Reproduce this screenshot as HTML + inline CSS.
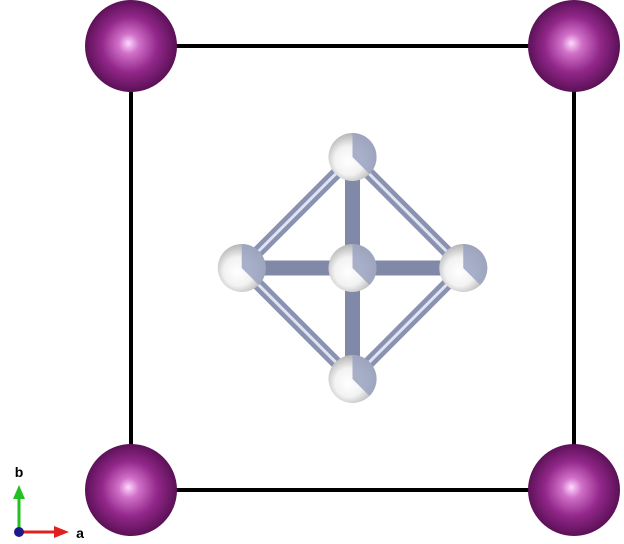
<!DOCTYPE html>
<html><head><meta charset="utf-8"><style>
html,body{margin:0;padding:0;background:#fff;}
svg{display:block;}
</style></head><body>
<svg id="s" width="624" height="544" viewBox="0 0 624 544" xmlns="http://www.w3.org/2000/svg">
<defs>
<radialGradient id="gP" cx="0.5" cy="0.5" r="0.55" fx="0.47" fy="0.47">
<stop offset="0" stop-color="#ffd8ff"/><stop offset="0.2" stop-color="#d070c8"/><stop offset="0.55" stop-color="#92278a"/><stop offset="1" stop-color="#4e0b4a"/>
</radialGradient>
<radialGradient id="gW" cx="0.45" cy="0.55" r="0.6" fx="0.4" fy="0.6">
<stop offset="0" stop-color="#ffffff"/><stop offset="0.5" stop-color="#f2f2f2"/><stop offset="1" stop-color="#a8a8a8"/>
</radialGradient>
<linearGradient id="gBv" x1="0" y1="0" x2="1" y2="0">
<stop offset="0" stop-color="#7c84a4"/><stop offset="0.5" stop-color="#a6adc8"/><stop offset="1" stop-color="#7c84a4"/>
</linearGradient>
<linearGradient id="gBh" x1="0" y1="0" x2="0" y2="1">
<stop offset="0" stop-color="#7c84a4"/><stop offset="0.5" stop-color="#a6adc8"/><stop offset="1" stop-color="#7c84a4"/>
</linearGradient>
</defs>
<g id="cell"></g>
<g id="bonds"></g>
<g id="atoms"></g>
<g>
<line x1="19" y1="530" x2="19" y2="497" stroke="#22c022" stroke-width="3"/>
<polygon points="13,499 25,499 19,485" fill="#22c022"/>
<line x1="19" y1="532" x2="56" y2="532" stroke="#e02020" stroke-width="3"/>
<polygon points="54,526 54,538 69,532" fill="#e02020"/>
<circle cx="19" cy="532" r="5" fill="#1a1a8a"/>
<text x="19" y="477" font-family="Liberation Sans, sans-serif" font-weight="bold" font-size="14" text-anchor="middle">b</text>
<text x="80" y="538" font-family="Liberation Sans, sans-serif" font-weight="bold" font-size="14" text-anchor="middle">a</text>
</g>
</svg>
<script>
// fractional coordinates (a, b) of atoms in projection
const cornerAtoms = [[0,0],[1,0],[0,1],[1,1]];
const octaAtoms = [[0.5,0.5],[0.5,0.75],[0.5,0.25],[0.25,0.5],[0.75,0.5]];
const spokeBonds = [[0,1],[0,2],[0,3],[0,4]];
const edgeBonds = [[1,3],[1,4],[2,3],[2,4]];
const X0=131, X1=574, Y0=490, Y1=46;
const px = f => X0 + f*(X1-X0);
const py = f => Y0 + f*(Y1-Y0);
const NS='http://www.w3.org/2000/svg';
function mk(tag, attrs, parent){const e=document.createElementNS(NS,tag);for(const k in attrs)e.setAttribute(k,attrs[k]);parent.appendChild(e);return e;}
const cell=document.getElementById('cell'), bonds=document.getElementById('bonds'), atoms=document.getElementById('atoms');
const r=mk('rect',{x:X0,y:Y1,width:X1-X0,height:Y0-Y1,fill:'none',stroke:'#000','stroke-width':4},cell);


edgeBonds.forEach(b=>{
  const a=octaAtoms[b[0]], c=octaAtoms[b[1]];
  const l1=mk('line',{x1:px(a[0]),y1:py(a[1]),x2:px(c[0]),y2:py(c[1]),stroke:'#8a92b2','stroke-width':12},bonds);
  
  
  const l2=mk('line',{x1:px(a[0]),y1:py(a[1]),x2:px(c[0]),y2:py(c[1]),stroke:'#dfe3f2','stroke-width':3},bonds);
  
  
});
spokeBonds.forEach(b=>{
  const a=octaAtoms[b[0]], c=octaAtoms[b[1]];
  const l=mk('line',{x1:px(a[0]),y1:py(a[1]),x2:px(c[0]),y2:py(c[1]),stroke:'#8189a8','stroke-width':15,'stroke-linecap':'round'},bonds);
  
  
});
octaAtoms.forEach(a=>{
  const cx=px(a[0]), cy=py(a[1]);
  const c=mk('circle',{cx:cx,cy:cy,r:24,fill:'url(#gW)'},atoms);
  
  
  const q=mk('path',{d:`M${cx},${cy} L${cx},${cy-24} A24,24 0 0 1 ${cx+17},${cy+17} Z`,fill:'#9aa2c0',opacity:0.85},atoms);
  
  
});
cornerAtoms.forEach(a=>{
  const c=mk('circle',{cx:px(a[0]),cy:py(a[1]),r:46,fill:'url(#gP)'},atoms);
  
  
});
</script>
</body></html>
